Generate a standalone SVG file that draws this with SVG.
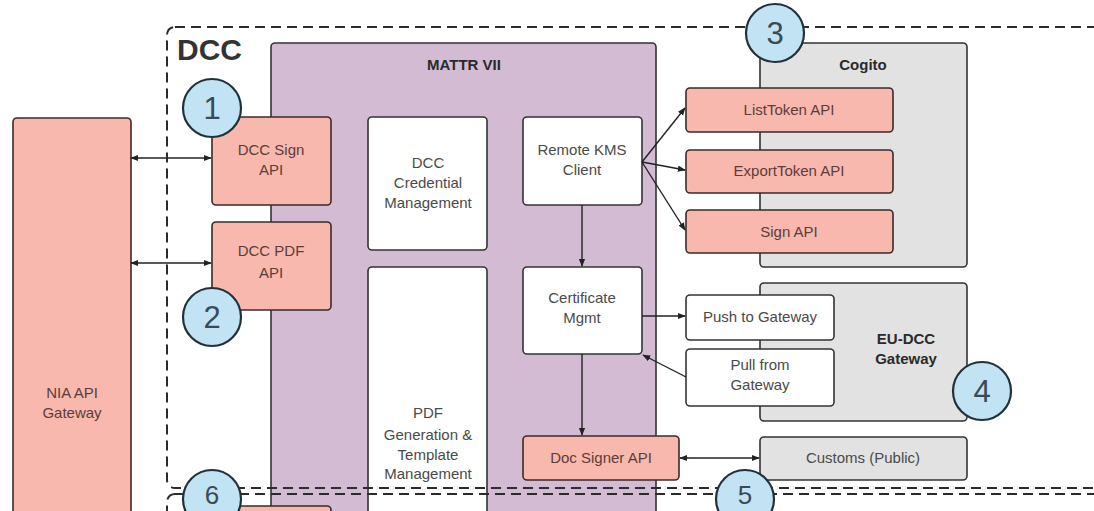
<svg xmlns="http://www.w3.org/2000/svg" width="1094" height="511" viewBox="0 0 1094 511">
<defs>
<style>
.pink{fill:#f8b8ae;stroke:#3a2a2a;stroke-width:1.6}
.white{fill:#ffffff;stroke:#333;stroke-width:1.6}
.gray{fill:#e2e2e2;stroke:#333;stroke-width:1.6}
.purple{fill:#d3bcd3;stroke:#333;stroke-width:1.6}
.dash{fill:none;stroke:#2b2b2b;stroke-width:2;stroke-dasharray:10 6}
.t{font-family:"Liberation Sans",Arial,sans-serif;font-size:15px;text-anchor:middle}
.tp{fill:#5c3d3a}
.tw{fill:#4a4a4a}
.b{font-weight:bold;fill:#2a2a2a}
.circ{fill:#c2e3f3;stroke:#22303a;stroke-width:2.2}
.num{font-family:"Liberation Sans",Arial,sans-serif;font-size:31px;text-anchor:middle;fill:#3a4a56}
.conn{stroke:#222;stroke-width:1.4;fill:none}
</style>
<marker id="ah" viewBox="0 0 10 10" refX="9" refY="5" markerWidth="8" markerHeight="8" markerUnits="userSpaceOnUse" orient="auto-start-reverse">
<path d="M0,1 L10,5 L0,9 Z" fill="#222"/>
</marker>
</defs>

<g id="nia-gateway">
<rect class="pink" x="13" y="118" width="118" height="420" rx="4"/>
<text class="t tp" x="72" y="398">NIA API</text>
<text class="t tp" x="72" y="418">Gateway</text>
</g>

<g id="mattr-vii">
<rect class="purple" x="271" y="43" width="385" height="500" rx="4"/>
<text class="t b" x="464" y="70">MATTR VII</text>
</g>

<g id="cogito">
<rect class="gray" x="760" y="43" width="207" height="224" rx="4"/>
<text class="t b" x="863" y="70">Cogito</text>
</g>

<g id="eu-dcc-gateway">
<rect class="gray" x="760" y="283" width="207" height="138" rx="4"/>
<text class="t b" x="906" y="344">EU-DCC</text>
<text class="t b" x="906" y="364">Gateway</text>
</g>

<g id="customs">
<rect class="gray" x="760" y="437" width="207" height="43" rx="4"/>
<text class="t tw" x="863" y="463">Customs (Public)</text>
</g>

<g id="dcc-sign-api">
<rect class="pink" x="212" y="117" width="119" height="88" rx="4"/>
<text class="t tp" x="271" y="155">DCC Sign</text>
<text class="t tp" x="271" y="175">API</text>
</g>

<g id="dcc-pdf-api">
<rect class="pink" x="212" y="222" width="119" height="88" rx="4"/>
<text class="t tp" x="271" y="256">DCC PDF</text>
<text class="t tp" x="271" y="278">API</text>
</g>

<g id="bottom-pink">
<rect class="pink" x="212" y="506" width="119" height="40" rx="4"/>
</g>

<g id="dcc-credential-management">
<rect class="white" x="368" y="117" width="119" height="133" rx="4"/>
<text class="t tw" x="428" y="168">DCC</text>
<text class="t tw" x="428" y="188">Credential</text>
<text class="t tw" x="428" y="208">Management</text>
</g>

<g id="pdf-generation">
<rect class="white" x="368" y="267" width="119" height="280" rx="4"/>
<text class="t tw" x="428" y="418">PDF</text>
<text class="t tw" x="428" y="440">Generation &amp;</text>
<text class="t tw" x="428" y="460">Template</text>
<text class="t tw" x="428" y="479">Management</text>
</g>

<g id="remote-kms-client">
<rect class="white" x="523" y="117" width="119" height="88" rx="4"/>
<text class="t tw" x="582" y="155">Remote KMS</text>
<text class="t tw" x="582" y="175">Client</text>
</g>

<g id="certificate-mgmt">
<rect class="white" x="523" y="267" width="119" height="87" rx="4"/>
<text class="t tw" x="582" y="303">Certificate</text>
<text class="t tw" x="582" y="323">Mgmt</text>
</g>

<g id="doc-signer-api">
<rect class="pink" x="523" y="436" width="156" height="44" rx="4"/>
<text class="t tp" x="601" y="463">Doc Signer API</text>
</g>

<g id="listtoken-api">
<rect class="pink" x="686" y="88" width="207" height="44" rx="4"/>
<text class="t tp" x="789" y="115">ListToken API</text>
</g>

<g id="exporttoken-api">
<rect class="pink" x="686" y="150" width="207" height="43" rx="4"/>
<text class="t tp" x="789" y="176">ExportToken API</text>
</g>

<g id="sign-api">
<rect class="pink" x="686" y="210" width="207" height="43" rx="4"/>
<text class="t tp" x="789" y="237">Sign API</text>
</g>

<g id="push-to-gateway">
<rect class="white" x="686" y="295" width="148" height="45" rx="4"/>
<text class="t tw" x="760" y="322">Push to Gateway</text>
</g>

<g id="pull-from-gateway">
<rect class="white" x="686" y="349" width="148" height="57" rx="4"/>
<text class="t tw" x="760" y="370">Pull from</text>
<text class="t tw" x="760" y="390">Gateway</text>
</g>

<g id="connectors">
<line class="conn" x1="131" y1="158" x2="211" y2="158" marker-start="url(#ah)" marker-end="url(#ah)"/>
<line class="conn" x1="131" y1="263" x2="211" y2="263" marker-start="url(#ah)" marker-end="url(#ah)"/>
<line class="conn" x1="642" y1="162" x2="685" y2="108" marker-end="url(#ah)"/>
<line class="conn" x1="642" y1="162" x2="685" y2="170" marker-end="url(#ah)"/>
<line class="conn" x1="642" y1="162" x2="685" y2="230" marker-end="url(#ah)"/>
<line class="conn" x1="582" y1="205" x2="582" y2="266" marker-end="url(#ah)"/>
<line class="conn" x1="582" y1="354" x2="582" y2="435" marker-end="url(#ah)"/>
<line class="conn" x1="642" y1="316" x2="685" y2="316" marker-end="url(#ah)"/>
<line class="conn" x1="686" y1="377" x2="643" y2="355" marker-end="url(#ah)"/>
<line class="conn" x1="680" y1="458" x2="759" y2="458" marker-start="url(#ah)" marker-end="url(#ah)"/>
</g>

<g id="dcc-boundary">
<rect class="dash" x="167" y="27" width="1000" height="461" rx="8"/>
<text x="177" y="60" style="font-family:'Liberation Sans',Arial,sans-serif;font-size:30px;font-weight:bold;fill:#333">DCC</text>
</g>
<g id="lower-boundary">
<rect class="dash" x="167" y="494" width="1000" height="100" rx="8"/>
</g>

<g id="badge-1"><circle class="circ" cx="212" cy="108" r="29"/><text class="num" x="212" y="119">1</text></g>
<g id="badge-2"><circle class="circ" cx="212" cy="317" r="29"/><text class="num" x="212" y="328">2</text></g>
<g id="badge-3"><circle class="circ" cx="775" cy="33" r="29"/><text class="num" x="775" y="44">3</text></g>
<g id="badge-4"><circle class="circ" cx="982" cy="391" r="29"/><text class="num" x="982" y="402">4</text></g>
<g id="badge-5"><circle class="circ" cx="745" cy="499" r="29"/><text class="num" x="745" y="504" style="font-size:26px">5</text></g>
<g id="badge-6"><circle class="circ" cx="212" cy="499" r="29"/><text class="num" x="212" y="504" style="font-size:26px">6</text></g>
</svg>
